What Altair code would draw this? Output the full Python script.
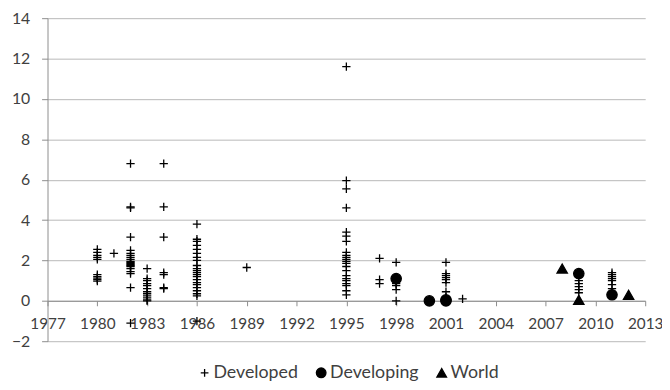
import altair as alt
import pandas as pd

# ---- data ----
series_names = ["Developed", "Developing", "World"]

dev_year = (
    [1980] * 10 + [1981] + [1982] * 20 + [1983] * 12 + [1984] * 7
    + [1986] * 22 + [1989] + [1995] * 22 + [1997] * 3 + [1998] * 6
    + [2001] * 8 + [2002] + [2009] * 5 + [2011] * 7
)
dev_value = (
    [2.55, 2.4, 2.25, 2.15, 2.05, 1.3, 1.2, 1.12, 1.05, 0.98]
    + [2.35]
    + [6.8, 4.65, 4.6, 3.15, 2.5, 2.35, 2.25, 2.15, 2.05, 1.95, 1.9, 1.85,
       1.8, 1.75, 1.7, 1.6, 1.45, 1.35, 0.65, -1.1]
    + [1.6, 1.1, 1.0, 0.85, 0.75, 0.6, 0.45, 0.35, 0.25, 0.15, 0.05, 0.0]
    + [6.8, 4.65, 3.15, 1.4, 1.3, 0.65, 0.6]
    + [3.8, 3.05, 2.95, 2.75, 2.55, 2.35, 2.15, 2.0, 1.75, 1.6, 1.5, 1.4,
       1.3, 1.2, 1.05, 0.9, 0.8, 0.65, 0.5, 0.35, 0.25, -1.0]
    + [1.65]
    + [11.6, 5.95, 5.55, 4.6, 3.4, 3.2, 2.95, 2.4, 2.25, 2.15, 2.05, 1.95,
       1.85, 1.7, 1.5, 1.25, 1.1, 1.0, 0.85, 0.75, 0.5, 0.3]
    + [2.1, 1.05, 0.85]
    + [1.9, 1.0, 0.85, 0.75, 0.55, 0.0]
    + [1.9, 1.35, 1.25, 1.15, 1.05, 0.9, 0.45, 0.2]
    + [0.1]
    + [1.0, 0.85, 0.7, 0.55, 0.4]
    + [1.4, 1.3, 1.2, 1.1, 1.0, 0.8, 0.6]
)

devg_year = [1998, 2000, 2001, 2001, 2009, 2011]
devg_value = [1.1, 0.0, 0.0, 0.05, 1.35, 0.3]

world_year = [2008, 2009, 2012]
world_value = [1.6, 0.05, 0.3]

x_ticks = list(range(1977, 2014, 3))
y_ticks = list(range(-2, 15, 2))

rows = []
for y, v in zip(dev_year, dev_value):
    rows.append({"year": y, "value": v, "series": "Developed"})
for y, v in zip(devg_year, devg_value):
    rows.append({"year": y, "value": v, "series": "Developing"})
for y, v in zip(world_year, world_value):
    rows.append({"year": y, "value": v, "series": "World"})
df = pd.DataFrame(rows)

# ---- styling ----
W, H = 605, 327
FONT = "Lato"
TXT = "#404040"
PLUS = "M-0.8,0H0.8M0,-0.8V0.8"

legend = alt.Legend(
    title=None, orient="none", direction="horizontal",
    legendX=150, legendY=350, symbolSize=95,
    symbolStrokeWidth=1.3, columnPadding=14, labelOffset=0,
    labelFont=FONT, labelFontSize=18, labelColor=TXT,
)

chart = (
    alt.Chart(df)
    .mark_point(filled=True, strokeWidth=1.3, size=110, opacity=1)
    .encode(
        x=alt.X(
            "year:Q",
            scale=alt.Scale(domain=[1977, 2013], nice=False, zero=False),
            axis=alt.Axis(
                values=x_ticks, format="d", title=None, grid=False,
                offset=-H * 2 / 16, tickSize=5, labelPadding=11,
                domainColor="#8c8c8c", tickColor="#8c8c8c",
                labelFlush=False, labelOverlap=False, zindex=0,
                labelFontSize=15.5,
            ),
        ),
        y=alt.Y(
            "value:Q",
            scale=alt.Scale(domain=[-2, 14], nice=False, zero=False),
            axis=alt.Axis(
                values=y_ticks, title=None, grid=True, gridColor="#b8b8b8",
                tickSize=6, labelPadding=12, domainColor="#8c8c8c",
                tickColor="#8c8c8c",
            ),
        ),
        shape=alt.Shape(
            "series:N",
            scale=alt.Scale(domain=series_names,
                            range=[PLUS, "circle", "triangle-up"]),
            legend=legend,
        ),
        fill=alt.Fill(
            "series:N",
            scale=alt.Scale(domain=series_names, range=["black"] * 3),
            legend=legend,
        ),
        stroke=alt.Stroke(
            "series:N",
            scale=alt.Scale(domain=series_names, range=["black"] * 3),
            legend=legend,
        ),
    )
    .properties(
        width=W, height=H,
        autosize=alt.AutoSizeParams(type="none"),
        padding={"left": 40, "top": 8, "right": 17, "bottom": 39},
    )
    .configure_view(stroke=None)
    .configure_axis(
        labelFont=FONT, labelFontSize=16, labelColor=TXT,
    )
)

chart.save("out.html", embed_options={"renderer": "svg", "actions": False})
